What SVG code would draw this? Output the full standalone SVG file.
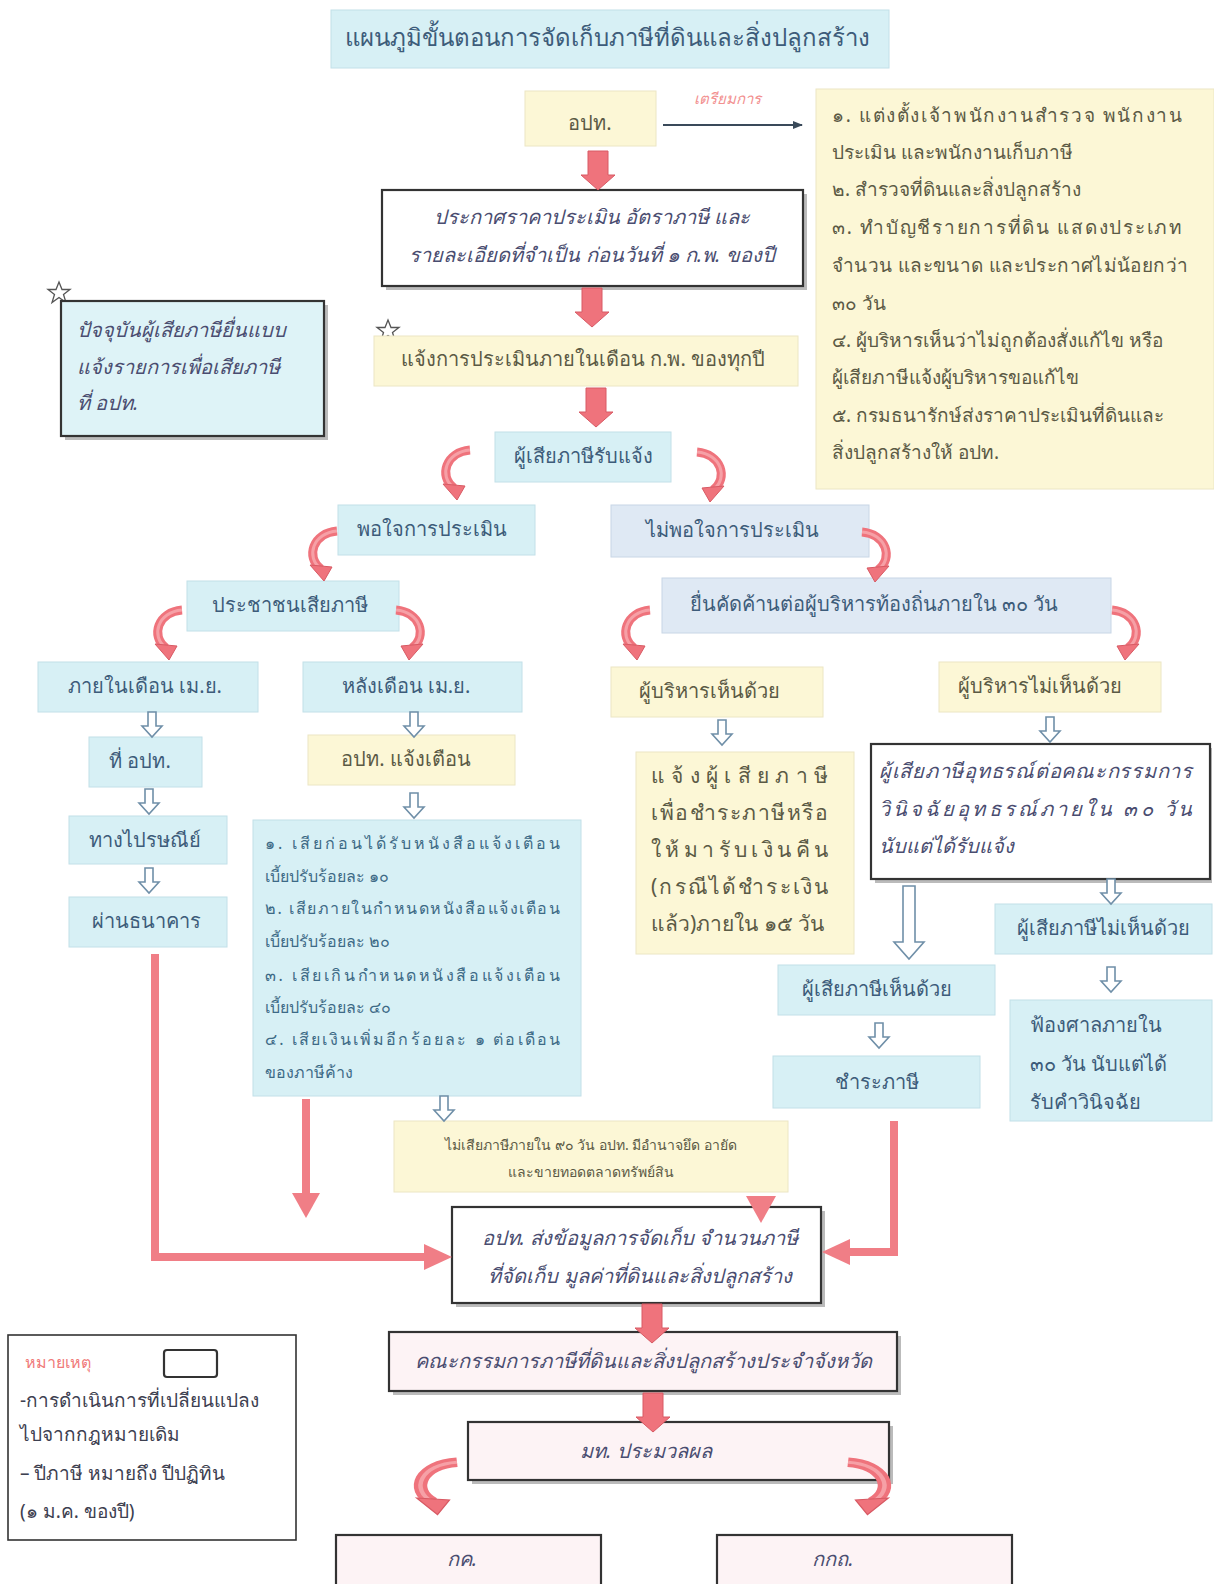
<svg xmlns="http://www.w3.org/2000/svg" width="1214" height="1584" viewBox="0 0 1214 1584">
<style>
text{font-family:"Noto Sans","DejaVu Sans",sans-serif;}
.cy{fill:#d7f0f5;stroke:#c2e0e8;stroke-width:1;}
.ye{fill:#fcf7d6;stroke:#ece6c4;stroke-width:1;}
.lv{fill:#dfe9f4;stroke:#c8d6e6;stroke-width:1;}
.bx{fill:#ffffff;stroke:#333;stroke-width:2.2;}
.pk{fill:#fdf3f5;stroke:#333;stroke-width:2.2;}
.sh{fill:#777;opacity:.5;}
.tc{fill:#3d5c7a;font-size:20px;text-anchor:middle;}
.ty{fill:#5b5a45;font-size:20px;text-anchor:middle;}
.ti{fill:#4a4d70;font-size:20px;font-style:italic;text-anchor:middle;}
.tl{fill:#5b5a45;font-size:19px;}
.tb{fill:#3d6a86;font-size:16px;}
.red{fill:#ef737c;stroke:#d85a64;stroke-width:1;}
.rl{stroke:#f07e86;stroke-width:8;fill:none;}
.ho{fill:#fff;stroke:#6f8fa8;stroke-width:1.6;}
.star{fill:none;stroke:#555;stroke-width:1.3;}
</style>
<defs>
<path id="ra" d="M-10,0 h20 v24 h7 l-17,15 l-17,-15 h7 z"/>
<path id="ha" d="M-4,0 h8 v14 h6 l-10,11 l-10,-11 h6 z"/>
<g id="cl"><path d="M30,4 C6,6 -2,30 14,42" stroke="#ef737c" stroke-width="9" fill="none"/><path d="M30,4 C6,6 -2,30 14,42" stroke="#f6a0a6" stroke-width="3" fill="none"/><polygon points="3,38 25,40 17,54" fill="#ef737c" stroke="#d85a64"/></g>
<polygon id="st" points="0,-11 3,-3.5 11,-3.5 4.5,1.5 7,9.5 0,4.5 -7,9.5 -4.5,1.5 -11,-3.5 -3,-3.5"/>
<marker id="ah" markerWidth="10" markerHeight="8" refX="9" refY="4" orient="auto" markerUnits="userSpaceOnUse"><path d="M0,0 L10,4 L0,8 z" fill="#3a4a5a"/></marker>
</defs>

<g id="title"><rect x="331" y="10" width="558" height="58" class="cy"/><text x="607" y="46" class="tc" font-size="24" style="font-size:24px">แผนภูมิขั้นตอนการจัดเก็บภาษีที่ดินและสิ่งปลูกสร้าง</text></g>

<g id="n-opt"><rect x="525" y="91" width="131" height="55" class="ye"/><text x="590" y="130" class="ty">อปท.</text></g>

<g id="n-prep"><rect x="816" y="89" width="398" height="400" class="ye"/>
<text class="tl" x="832" y="122" textLength="350" lengthAdjust="spacing">๑. แต่งตั้งเจ้าพนักงานสำรวจ พนักงาน</text>
<text class="tl" x="832" y="159">ประเมิน และพนักงานเก็บภาษี</text>
<text class="tl" x="832" y="196">๒. สำรวจที่ดินและสิ่งปลูกสร้าง</text>
<text class="tl" x="832" y="234" textLength="350" lengthAdjust="spacing">๓. ทำบัญชีรายการที่ดิน แสดงประเภท</text>
<text class="tl" x="832" y="272" textLength="356" lengthAdjust="spacing">จำนวน และขนาด และประกาศไม่น้อยกว่า</text>
<text class="tl" x="832" y="310">๓๐ วัน</text>
<text class="tl" x="832" y="347">๔. ผู้บริหารเห็นว่าไม่ถูกต้องสั่งแก้ไข หรือ</text>
<text class="tl" x="832" y="384">ผู้เสียภาษีแจ้งผู้บริหารขอแก้ไข</text>
<text class="tl" x="832" y="422">๕. กรมธนารักษ์ส่งราคาประเมินที่ดินและ</text>
<text class="tl" x="832" y="459">สิ่งปลูกสร้างให้ อปท.</text>
</g>

<g id="n-announce"><rect x="386" y="194" width="421" height="96" class="sh"/><rect x="382" y="190" width="421" height="96" class="bx"/>
<text x="592" y="224" class="ti">ประกาศราคาประเมิน อัตราภาษี และ</text>
<text x="592" y="262" class="ti">รายละเอียดที่จำเป็น ก่อนวันที่ ๑ ก.พ. ของปี</text></g>

<g id="n-current"><use href="#st" x="59" y="293" class="star"/><rect x="65" y="305" width="263" height="135" class="sh"/><rect x="61" y="301" width="263" height="135" fill="#def3f7" stroke="#333" stroke-width="2.2"/>
<text x="77" y="337" class="ti" style="text-anchor:start">ปัจจุบันผู้เสียภาษียื่นแบบ</text>
<text x="77" y="374" class="ti" style="text-anchor:start">แจ้งรายการเพื่อเสียภาษี</text>
<text x="77" y="410" class="ti" style="text-anchor:start">ที่ อปท.</text></g>

<g id="n-notify"><use href="#st" x="388" y="331" class="star"/><rect x="374" y="336" width="424" height="50" class="ye"/><text x="583" y="366" class="ty">แจ้งการประเมินภายในเดือน ก.พ. ของทุกปี</text></g>

<g id="n-recv"><rect x="495" y="432" width="176" height="50" class="cy"/><text x="583" y="463" class="tc">ผู้เสียภาษีรับแจ้ง</text></g>
<g id="n-sat"><rect x="338" y="505" width="197" height="50" class="cy"/><text x="432" y="536" class="tc">พอใจการประเมิน</text></g>
<g id="n-unsat"><rect x="611" y="505" width="258" height="52" class="lv"/><text x="732" y="537" class="tc">ไม่พอใจการประเมิน</text></g>
<g id="n-pay"><rect x="187" y="581" width="212" height="50" class="cy"/><text x="290" y="612" class="tc">ประชาชนเสียภาษี</text></g>
<g id="n-object"><rect x="662" y="578" width="449" height="55" class="lv"/><text x="874" y="611" class="tc">ยื่นคัดค้านต่อผู้บริหารท้องถิ่นภายใน ๓๐ วัน</text></g>
<g id="n-inapr"><rect x="38" y="662" width="220" height="50" class="cy"/><text x="145" y="693" class="tc">ภายในเดือน เม.ย.</text></g>
<g id="n-afapr"><rect x="303" y="662" width="219" height="50" class="cy"/><text x="406" y="693" class="tc">หลังเดือน เม.ย.</text></g>
<g id="n-agree"><rect x="611" y="667" width="212" height="50" class="ye"/><text x="709" y="698" class="ty">ผู้บริหารเห็นด้วย</text></g>
<g id="n-disagree"><rect x="939" y="662" width="222" height="50" class="ye"/><text x="1040" y="693" class="ty">ผู้บริหารไม่เห็นด้วย</text></g>
<g id="n-atopt"><rect x="89" y="737" width="113" height="50" class="cy"/><text x="140" y="768" class="tc">ที่ อปท.</text></g>
<g id="n-warn"><rect x="308" y="735" width="207" height="50" class="ye"/><text x="406" y="766" class="ty">อปท. แจ้งเตือน</text></g>
<g id="n-inform"><rect x="636" y="752" width="218" height="202" class="ye"/>
<text class="tl" style="font-size:21px" x="651" y="783" textLength="177" lengthAdjust="spacing">แจ้งผู้เสียภาษี</text>
<text class="tl" style="font-size:21px" x="651" y="820" textLength="177" lengthAdjust="spacing">เพื่อชำระภาษีหรือ</text>
<text class="tl" style="font-size:21px" x="651" y="857" textLength="177" lengthAdjust="spacing">ให้มารับเงินคืน</text>
<text class="tl" style="font-size:21px" x="651" y="894" textLength="177" lengthAdjust="spacing">(กรณีได้ชำระเงิน</text>
<text class="tl" style="font-size:21px" x="651" y="931">แล้ว)ภายใน ๑๕ วัน</text></g>
<g id="n-appeal"><rect x="875" y="748" width="337" height="135" class="sh"/><rect x="871" y="744" width="339" height="135" class="bx"/>
<text x="879" y="778" class="ti" style="text-anchor:start" textLength="313" lengthAdjust="spacing">ผู้เสียภาษีอุทธรณ์ต่อคณะกรรมการ</text>
<text x="879" y="816" class="ti" style="text-anchor:start" textLength="313" lengthAdjust="spacing">วินิจฉัยอุทธรณ์ภายใน ๓๐ วัน</text>
<text x="879" y="853" class="ti" style="text-anchor:start">นับแต่ได้รับแจ้ง</text></g>
<g id="n-post"><rect x="69" y="816" width="158" height="48" class="cy"/><text x="145" y="847" class="tc">ทางไปรษณีย์</text></g>
<g id="n-fines"><rect x="253" y="820" width="328" height="276" class="cy"/>
<text class="tb" x="265" y="849" textLength="295" lengthAdjust="spacing">๑. เสียก่อนได้รับหนังสือแจ้งเตือน</text>
<text class="tb" x="265" y="882">เบี้ยปรับร้อยละ ๑๐</text>
<text class="tb" x="265" y="914" textLength="295" lengthAdjust="spacing">๒. เสียภายในกำหนดหนังสือแจ้งเตือน</text>
<text class="tb" x="265" y="947">เบี้ยปรับร้อยละ ๒๐</text>
<text class="tb" x="265" y="981" textLength="295" lengthAdjust="spacing">๓. เสียเกินกำหนดหนังสือแจ้งเตือน</text>
<text class="tb" x="265" y="1013">เบี้ยปรับร้อยละ ๔๐</text>
<text class="tb" x="265" y="1045" textLength="295" lengthAdjust="spacing">๔. เสียเงินเพิ่มอีกร้อยละ ๑ ต่อเดือน</text>
<text class="tb" x="265" y="1078">ของภาษีค้าง</text></g>
<g id="n-bank"><rect x="69" y="897" width="158" height="50" class="cy"/><text x="146" y="928" class="tc">ผ่านธนาคาร</text></g>
<g id="n-tpdis"><rect x="995" y="904" width="217" height="50" class="cy"/><text x="1103" y="935" class="tc">ผู้เสียภาษีไม่เห็นด้วย</text></g>
<g id="n-tpagree"><rect x="778" y="965" width="217" height="50" class="cy"/><text x="877" y="996" class="tc">ผู้เสียภาษีเห็นด้วย</text></g>
<g id="n-court"><rect x="1010" y="1000" width="202" height="121" class="cy"/>
<text x="1030" y="1032" class="tc" style="text-anchor:start">ฟ้องศาลภายใน</text>
<text x="1030" y="1071" class="tc" style="text-anchor:start">๓๐ วัน นับแต่ได้</text>
<text x="1030" y="1109" class="tc" style="text-anchor:start">รับคำวินิจฉัย</text></g>
<g id="n-paytax"><rect x="773" y="1056" width="207" height="52" class="cy"/><text x="877" y="1089" class="tc">ชำระภาษี</text></g>
<g id="n-seize"><rect x="394" y="1121" width="394" height="71" class="ye"/>
<text x="591" y="1150" class="ty" style="font-size:14px">ไม่เสียภาษีภายใน ๙๐ วัน อปท. มีอำนาจยึด อายัด</text>
<text x="591" y="1177" class="ty" style="font-size:14px">และขายทอดตลาดทรัพย์สิน</text></g>
<g id="n-send"><rect x="456" y="1211" width="369" height="96" class="sh"/><rect x="452" y="1207" width="369" height="96" class="bx"/>
<text x="640" y="1245" class="ti">อปท. ส่งข้อมูลการจัดเก็บ จำนวนภาษี</text>
<text x="640" y="1283" class="ti">ที่จัดเก็บ มูลค่าที่ดินและสิ่งปลูกสร้าง</text></g>
<g id="n-committee"><rect x="393" y="1336" width="508" height="59" class="sh"/><rect x="389" y="1332" width="508" height="59" class="pk"/><text x="643" y="1368" class="ti">คณะกรรมการภาษีที่ดินและสิ่งปลูกสร้างประจำจังหวัด</text></g>
<g id="n-moi"><rect x="472" y="1426" width="421" height="58" class="sh"/><rect x="468" y="1422" width="421" height="58" class="pk"/><text x="646" y="1458" class="ti">มท. ประมวลผล</text></g>
<g id="n-kk"><rect x="336" y="1535" width="265" height="60" class="pk"/><text x="462" y="1566" class="ti">กค.</text></g>
<g id="n-kkt"><rect x="717" y="1535" width="295" height="60" class="pk"/><text x="833" y="1566" class="ti">กกถ.</text></g>
<g id="legend"><rect x="8" y="1335" width="288" height="205" fill="#fff" stroke="#333" stroke-width="1.6"/>
<text x="25" y="1368" style="fill:#f07a7a;font-size:16px">หมายเหตุ</text>
<rect x="164" y="1350" width="53" height="27" rx="3" fill="#fff" stroke="#333" stroke-width="2.2"/>
<text x="20" y="1407" style="fill:#3d4050;font-size:19px">-การดำเนินการที่เปลี่ยนแปลง</text>
<text x="20" y="1441" style="fill:#3d4050;font-size:19px">ไปจากกฎหมายเดิม</text>
<text x="20" y="1480" style="fill:#3d4050;font-size:19px">– ปีภาษี หมายถึง ปีปฏิทิน</text>
<text x="20" y="1518" style="fill:#3d4050;font-size:19px">(๑ ม.ค. ของปี)</text></g>

<g id="connectors">
<line x1="663" y1="125" x2="802" y2="125" stroke="#3a4a5a" stroke-width="1.8" marker-end="url(#ah)"/>
<text x="727" y="104" style="fill:#f29090;font-size:15px;font-style:italic" text-anchor="middle">เตรียมการ</text>
<use href="#ra" x="598" y="151" class="red"/>
<use href="#ra" x="592" y="288" class="red"/>
<use href="#ra" x="596" y="388" class="red"/>
<use href="#ra" x="652" y="1304" class="red" transform="translate(0,0)"/>
<use href="#ra" x="653" y="1393" class="red"/>
<use href="#cl" x="440" y="446"/>
<use href="#cl" transform="translate(727,448) scale(-1,1)"/>
<use href="#cl" x="307" y="527"/>
<use href="#cl" transform="translate(892,528) scale(-1,1)"/>
<use href="#cl" x="152" y="606"/>
<use href="#cl" transform="translate(426,606) scale(-1,1)"/>
<use href="#cl" x="620" y="606"/>
<use href="#cl" transform="translate(1142,606) scale(-1,1)"/>
<use href="#cl" transform="translate(412,1458) scale(1.5,1.05)"/>
<use href="#cl" transform="translate(893,1458) scale(-1.5,1.05)"/>
<use href="#ha" x="152" y="712" class="ho"/>
<use href="#ha" x="414" y="712" class="ho"/>
<use href="#ha" x="722" y="720" class="ho"/>
<use href="#ha" x="1050" y="717" class="ho"/>
<use href="#ha" x="149" y="789" class="ho"/>
<use href="#ha" x="414" y="793" class="ho"/>
<use href="#ha" x="149" y="868" class="ho"/>
<use href="#ha" x="1111" y="879" class="ho"/>
<use href="#ha" x="1111" y="967" class="ho"/>
<use href="#ha" x="879" y="1023" class="ho"/>
<use href="#ha" x="444" y="1096" class="ho"/>
<path d="M903,886 h12 v56 h9 l-15,17 l-15,-17 h9 z" class="ho"/>
<path d="M155,954 V1257 H425" class="rl"/>
<polygon points="424,1244 452,1257 424,1270" fill="#f07e86"/>
<path d="M306,1099 V1195" class="rl"/>
<polygon points="292,1193 320,1193 306,1218" fill="#f07e86"/>
<polygon points="746,1196 776,1196 761,1223" fill="#f07e86"/>
<path d="M894,1121 V1252 H848" class="rl"/>
<polygon points="850,1239 850,1265 822,1252" fill="#f07e86"/>
</g>
</svg>
